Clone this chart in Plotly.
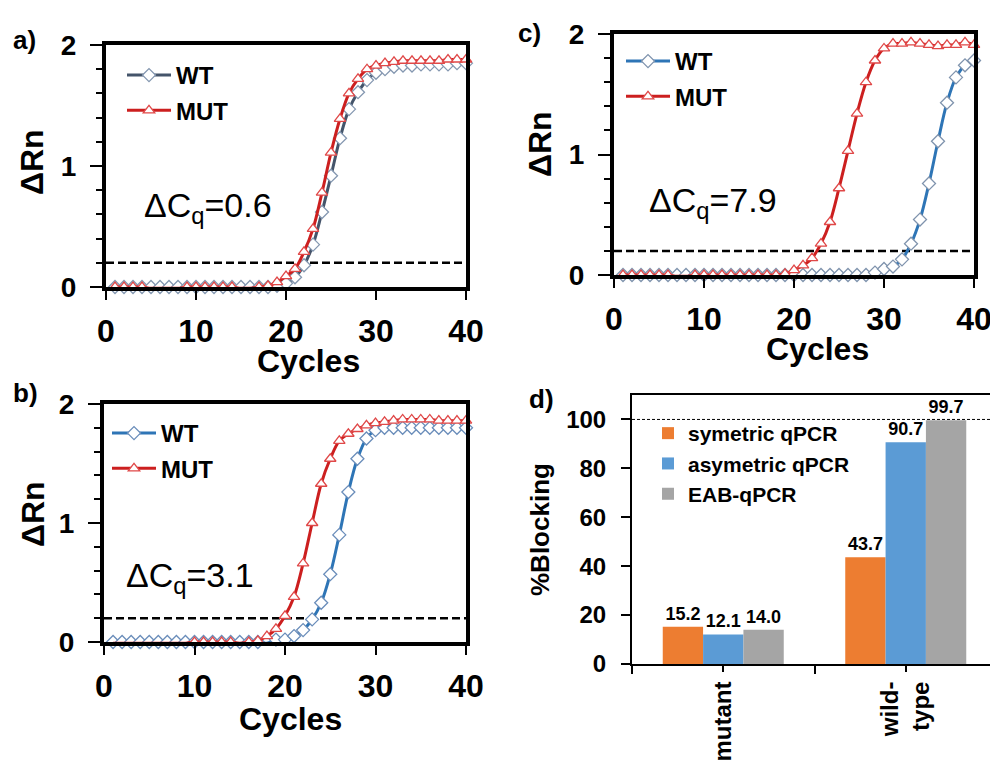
import plotly.graph_objects as go

# ---------------- data ----------------
cycles = list(range(1, 41))

a_wt = [0.00, 0.00, 0.00, 0.00, 0.00, 0.00, 0.00, 0.00, 0.00, 0.00,
        0.00, 0.00, 0.00, 0.00, 0.00, 0.00, 0.00, 0.00, 0.01, 0.03,
        0.08, 0.18, 0.35, 0.62, 0.92, 1.23, 1.47, 1.61, 1.71, 1.77,
        1.80, 1.82, 1.83, 1.83, 1.84, 1.84, 1.84, 1.84, 1.85, 1.85]
a_mut = [0.00, 0.00, 0.00, 0.00, -0.01, -0.01, -0.01, -0.01, 0.00, 0.00,
         0.00, 0.00, 0.00, 0.00, -0.01, -0.01, 0.00, 0.01, 0.04, 0.09,
         0.15, 0.29, 0.48, 0.78, 1.11, 1.39, 1.60, 1.72, 1.80, 1.83,
         1.85, 1.86, 1.87, 1.87, 1.87, 1.87, 1.87, 1.88, 1.88, 1.88]

b_wt = [0.00, 0.00, 0.00, 0.00, 0.00, 0.00, 0.00, 0.00, 0.00, 0.00,
        0.00, 0.00, 0.00, 0.00, 0.00, 0.00, 0.00, -0.01, 0.02, 0.02,
        0.05, 0.10, 0.19, 0.33, 0.57, 0.90, 1.26, 1.54, 1.71, 1.78,
        1.80, 1.80, 1.80, 1.80, 1.80, 1.80, 1.80, 1.80, 1.80, 1.80]
b_mut = [-0.01, -0.01, -0.01, -0.01, -0.01, -0.01, -0.01, -0.01, -0.01, 0.00,
         0.00, 0.00, 0.00, 0.00, -0.01, 0.00, 0.01, 0.05, 0.11, 0.22,
         0.38, 0.66, 1.00, 1.33, 1.54, 1.69, 1.75, 1.79, 1.82, 1.84,
         1.85, 1.86, 1.87, 1.87, 1.87, 1.87, 1.86, 1.86, 1.86, 1.86]

c_wt = [0.00, 0.00, 0.00, 0.00, 0.00, 0.00, 0.00, 0.00, 0.00, 0.00,
        0.00, 0.00, 0.00, 0.00, 0.00, 0.00, 0.00, 0.00, 0.00, 0.00,
        0.00, 0.00, 0.00, 0.00, 0.00, 0.00, 0.00, 0.00, 0.02, 0.05,
        0.07, 0.13, 0.26, 0.46, 0.76, 1.11, 1.43, 1.64, 1.74, 1.78]
c_mut = [0.00, 0.00, 0.00, 0.00, 0.00, 0.00, -0.01, -0.01, 0.00, 0.00,
         0.00, 0.00, 0.00, 0.00, 0.00, 0.00, 0.00, 0.00, 0.01, 0.04,
         0.08, 0.14, 0.26, 0.44, 0.72, 1.03, 1.34, 1.60, 1.78, 1.88,
         1.92, 1.92, 1.93, 1.92, 1.91, 1.90, 1.91, 1.91, 1.93, 1.91]

threshold = 0.2
delta_cq = {"a": "0.6", "b": "3.1", "c": "7.9"}

groups = ["mutant", "wild-<br>type"]
group_pos = [0, 1]
sym_qpcr = [15.2, 43.7]
asym_qpcr = [12.1, 90.7]
eab_qpcr = [14.0, 99.7]
full_block = 100

# ---------------- styling ----------------
# the page body has an 8px default margin; the figure fills the rest
OFF = 8
W, H = 998 - OFF, 760 - OFF
FONT = "Liberation Sans, Arial, sans-serif"
RED = "#CC1F1F"
RED_M = "#E04848"
SLATE = "#44546A"
BLUE = "#2E75B6"
ORANGE = "#ED7D31"
LBLUE = "#5B9BD5"
GRAY = "#A5A5A5"


def px(x):
    return (x - OFF) / W


def py(y):
    return 1 - (y - OFF) / H


def bold(size):
    return dict(family=FONT, size=size, color="black", weight="bold")


fig = go.Figure()

panels = [
    ("a", "", a_wt, a_mut, SLATE, "#8497B0", "legend"),
    ("b", "2", b_wt, b_mut, BLUE, "#6A8DBA", "legend2"),
    ("c", "3", c_wt, c_mut, BLUE, "#7F93AD", "legend3"),
]

for key, sfx, wt, mut, wtc, wtm, leg in panels:
    xa, ya = "x" + sfx, "y" + sfx
    fig.add_trace(go.Scatter(
        x=[0, 40], y=[threshold, threshold], xaxis=xa, yaxis=ya, mode="lines",
        line=dict(color="black", width=2.5, dash="8px,4px"), showlegend=False,
        hoverinfo="skip"))
    fig.add_trace(go.Scatter(
        x=cycles, y=wt, xaxis=xa, yaxis=ya, name="WT", mode="lines+markers",
        line=dict(color=wtc, width=3, shape="spline", smoothing=1),
        marker=dict(symbol="diamond", size=10, color="white",
                    line=dict(color=wtm, width=1.3)),
        cliponaxis=False, legend=leg, legendgroup=key + "wt"))
    fig.add_trace(go.Scatter(
        x=cycles, y=mut, xaxis=xa, yaxis=ya, name="MUT", mode="lines+markers",
        line=dict(color=RED, width=3, shape="spline", smoothing=1),
        marker=dict(symbol="triangle-up", size=10, color="white",
                    line=dict(color=RED_M, width=1.3)),
        cliponaxis=False, legend=leg, legendgroup=key + "mut"))

# panel d bars
for name, vals, col in [("symetric qPCR", sym_qpcr, ORANGE),
                        ("asymetric qPCR", asym_qpcr, LBLUE),
                        ("EAB-qPCR", eab_qpcr, GRAY)]:
    fig.add_trace(go.Bar(
        x=group_pos, y=vals, name=name, xaxis="x4", yaxis="y4",
        marker=dict(color=col, line=dict(width=0)),
        text=[f"{v:.1f}" for v in vals], textposition="outside",
        textfont=bold(18), constraintext="none", cliponaxis=False,
        legend="legend4"))
fig.add_trace(go.Scatter(
    x=[-0.5, 1.5], y=[full_block, full_block], xaxis="x4", yaxis="y4",
    mode="lines", line=dict(color="black", width=1, dash="3px,2px"),
    showlegend=False, hoverinfo="skip"))

# ---------------- axes ----------------
curve_dom = {
    "": ((106, 466), (287, 45)),
    "2": ((104, 466), (642, 404)),
    "3": ((614, 974), (275, 34)),
}
layout = dict(
    template="none",
    width=W, height=H, margin=dict(l=0, r=0, t=0, b=0, autoexpand=False),
    plot_bgcolor="white", paper_bgcolor="white",
    barmode="group", bargap=0.337, bargroupgap=0,
    font=dict(family=FONT, color="black"),
)
for sfx, ((x0, x1), (yb, yt)) in curve_dom.items():
    layout["xaxis" + sfx] = dict(
        domain=[px(x0), px(x1)], anchor="y" + sfx, range=[0, 40],
        tickmode="array", tickvals=[0, 10, 20, 30, 40],
        ticks="outside", ticklen=9, tickwidth=1.5, tickcolor="black",
        tickfont=bold(32), ticklabelstandoff=4, automargin=False,
        showline=True, linewidth=4, linecolor="black", mirror=True,
        showgrid=False, zeroline=False)
    layout["yaxis" + sfx] = dict(
        domain=[py(yb), py(yt)], anchor="x" + sfx, range=[0, 2],
        tickmode="array", tickvals=[0, 1, 2],
        ticks="outside", ticklen=12, tickwidth=1.5, tickcolor="black",
        minor=dict(dtick=0.2, ticks="outside", ticklen=6, tickwidth=1.5,
                   tickcolor="black", showgrid=False),
        tickfont=bold(28), ticklabelstandoff=8, automargin=False,
        showline=True, linewidth=4, linecolor="black", mirror=True,
        showgrid=False, zeroline=False)

layout["xaxis4"] = dict(
    domain=[px(632), px(997)], anchor="y4", range=[-0.5, 1.5],
    tickmode="array", tickvals=group_pos, ticktext=groups, tickangle=-90,
    ticks="outside", ticklen=6, tickwidth=2, tickcolor="black",
    minor=dict(tickmode="array", tickvals=[-0.5, 0.5, 1.5], ticks="outside",
               ticklen=8, tickwidth=2, tickcolor="black", showgrid=False),
    tickfont=bold(24), ticklabelstandoff=0, automargin=False,
    showline=True, linewidth=2, linecolor="black", mirror=True,
    showgrid=False, zeroline=False)
layout["yaxis4"] = dict(
    domain=[py(664), py(395)], anchor="x4", range=[0, 110],
    tickmode="array", tickvals=[0, 20, 40, 60, 80, 100],
    ticks="outside", ticklen=9, tickwidth=2, tickcolor="black",
    tickfont=bold(24), ticklabelstandoff=10, automargin=False,
    showline=True, linewidth=2, linecolor="black", mirror=True,
    showgrid=False, zeroline=False)


def curve_legend(x, ytop):
    return dict(x=px(x), y=py(ytop), xanchor="left", yanchor="top",
                bgcolor="rgba(0,0,0,0)", borderwidth=0, font=bold(24),
                itemwidth=44, tracegroupgap=1, orientation="v")


layout["legend"] = curve_legend(122, 53)
layout["legend2"] = curve_legend(107, 411)
layout["legend3"] = curve_legend(621, 39)
layout["legend4"] = dict(x=px(648), y=py(413), xanchor="left", yanchor="top",
                         bgcolor="rgba(0,0,0,0)", borderwidth=0, font=bold(21),
                         itemwidth=30, orientation="v", tracegroupgap=0)

fig.update_layout(**layout)

# ---------------- text ----------------
ann = []


def add_text(text, x, y, font, angle=0, xanchor="center"):
    ann.append(dict(text=text, x=px(x), y=py(y), xref="paper", yref="paper",
                    xanchor=xanchor, yanchor="middle", showarrow=False,
                    textangle=angle, font=font))


for label, (x, y) in {"a)": (24, 40), "b)": (25, 393),
                      "c)": (529, 33), "d)": (541, 399)}.items():
    add_text(label, x, y, bold(26))
for x, y in [(32, 162), (33, 514), (540, 144)]:
    add_text("ΔRn", x, y, bold(32), angle=-90)
for x, y in [(308, 361), (290, 719), (817, 349)]:
    add_text("Cycles", x, y, bold(32))
add_text("%Blocking", 540, 530, bold(26), angle=-90)
for key, (x, y) in {"a": (142, 207), "b": (124, 577), "c": (647, 203)}.items():
    add_text("ΔC<sub>q</sub>=" + delta_cq[key], x, y,
             dict(family=FONT, size=34, color="black"), xanchor="left")
fig.update_layout(annotations=ann)

fig.write_html("out.html")
